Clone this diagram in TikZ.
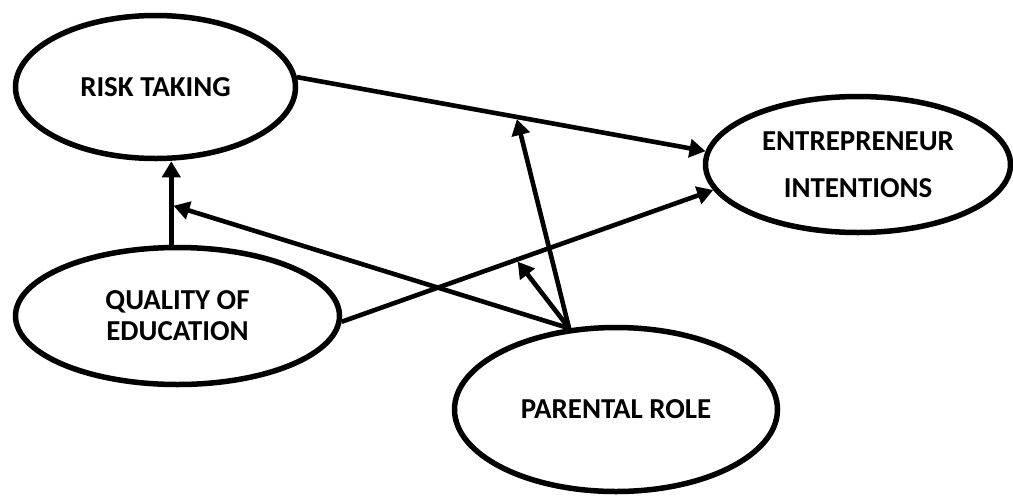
\documentclass[tikz,border=0pt]{standalone}
\usepackage{fontspec}
\setmainfont{Carlito}
\usetikzlibrary{shapes.geometric,arrows.meta}
\tikzset{
  latent/.style={ellipse, draw, line width=5.5pt, inner sep=0pt, align=center,
    font=\bfseries\fontsize{28.9}{31}\selectfont},
  arr/.style={-{Triangle[length=16pt,width=18pt]}, line width=4.6pt}
}
\begin{document}
\begin{tikzpicture}[x=1pt,y=-1pt]
  \useasboundingbox (0,0) rectangle (1013,496);
  \node[latent, minimum width=280pt, minimum height=143pt] (risk) at (155.5,87) {RISK TAKING};
  \node[latent, minimum width=324pt, minimum height=137pt] (quality) at (177.5,316) {QUALITY OF\\EDUCATION};
  \node[latent, minimum width=305pt, minimum height=136pt,
    font=\bfseries\fontsize{28.9}{47}\selectfont] (entre) at (858,164.5) {ENTREPRENEUR\\INTENTIONS};
  \node[latent, minimum width=323pt, minimum height=164pt] (parent) at (616,409.5) {PARENTAL ROLE};
  \coordinate (hub) at (parent.120);
  \begin{scope}[arr]
    \draw (risk.4) -- coordinate[pos=0.537] (m1) (entre.175);
    \draw (quality.-2) -- coordinate[pos=0.47] (m2) (entre.190);
    \draw (quality.95) -- coordinate[pos=0.476] (m0) (quality.95 |- risk.south);
    \draw[shorten >=2.3pt] (hub) -- (m0);
    \draw[shorten >=2.3pt] (hub) -- (m2);
    \draw[shorten >=2.3pt] (hub) -- (m1);
  \end{scope}
\end{tikzpicture}
\end{document}
